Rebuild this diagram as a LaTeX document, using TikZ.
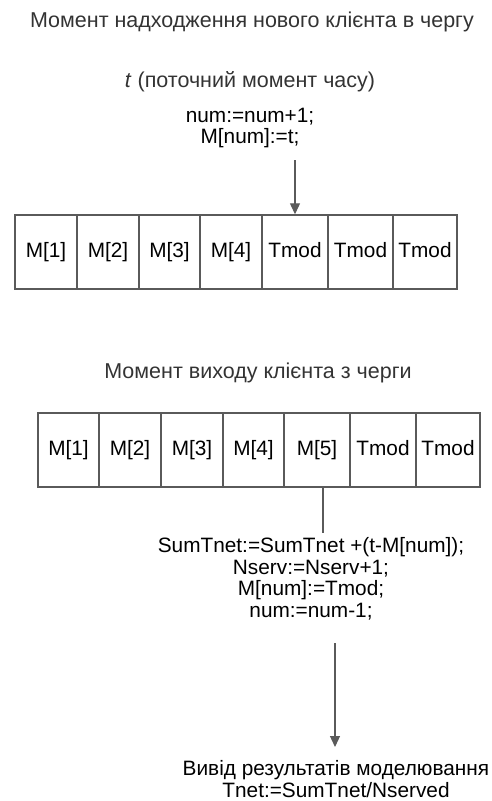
\documentclass[tikz,border=0pt]{standalone}
\usepackage{fontspec}
\setmainfont{Liberation Sans}
\usetikzlibrary{arrows.meta}
\definecolor{lin}{HTML}{5A5A5A}
\definecolor{ttl}{HTML}{333333}
\tikzset{
  cell/.style={draw=lin, line width=1.4pt, minimum height=74pt, inner sep=0pt, text height=15pt, text depth=4pt, font=\fontsize{20.8}{24}\selectfont, text=black},
  lbl/.style={font=\fontsize{20.8}{21.5}\selectfont, align=center, inner sep=0pt, text=black},
  ttlf/.style={font=\fontsize{21.5}{24}\selectfont, text=ttl, inner sep=0pt},
  arr/.style={draw=lin, line width=1.2pt, -{Triangle[length=11pt,width=10pt]}},
  ln/.style={draw=lin, line width=1.2pt}
}
\begin{document}
\begin{tikzpicture}[x=1pt,y=-1pt]
\useasboundingbox (0,0) rectangle (492,801);
\node[ttlf] (t1) at (252,22) {Момент надходження нового клієнта в чергу};
\node[ttlf] (t2) at (250,82) {\textit{t} (поточний момент часу)};
\node[lbl] (c1) at (250,128) {num:=num+1;\\M[num]:=t;};
% top table
\foreach \n/\a/\b/\txt in {1/15/77/M[1],2/77/139/M[2],3/139/200/M[3],4/200/262/M[4],5/262/328/Tmod,6/328/393/Tmod,7/393/457/Tmod}{
  \node[cell, minimum width={\b-\a}] (a\n) at ({(\a+\b)/2},252) {\txt};
}
\coordinate (s1) at (295,160);
\draw[arr] (s1) -- (a5.north -| s1);
% bottom
\node[ttlf] (t3) at (258,373) {Момент виходу клієнта з черги};
\foreach \n/\a/\b/\txt in {1/38/99/M[1],2/99/161/M[2],3/161/223/M[3],4/223/284/M[4],5/284/350/M[5],6/350/416/Tmod,7/416/480/Tmod}{
  \node[cell, minimum width={\b-\a}] (b\n) at ({(\a+\b)/2},450) {\txt};
}
\coordinate (s2) at (323,533);
\draw[ln] (b5.south -| s2) -- (s2);
\node[lbl] (c2) at (311,579) {SumTnet:=SumTnet +(t-M[num]);\\Nserv:=Nserv+1;\\M[num]:=Tmod;\\num:=num-1;};
\node[lbl] (r) at (336,779) {Вивід результатів моделювання\\Tnet:=SumTnet/Nserved};
\coordinate (s3) at (335,643);
\coordinate (e3) at (335,747);
\draw[arr] (s3) -- (e3);
\end{tikzpicture}
\end{document}
